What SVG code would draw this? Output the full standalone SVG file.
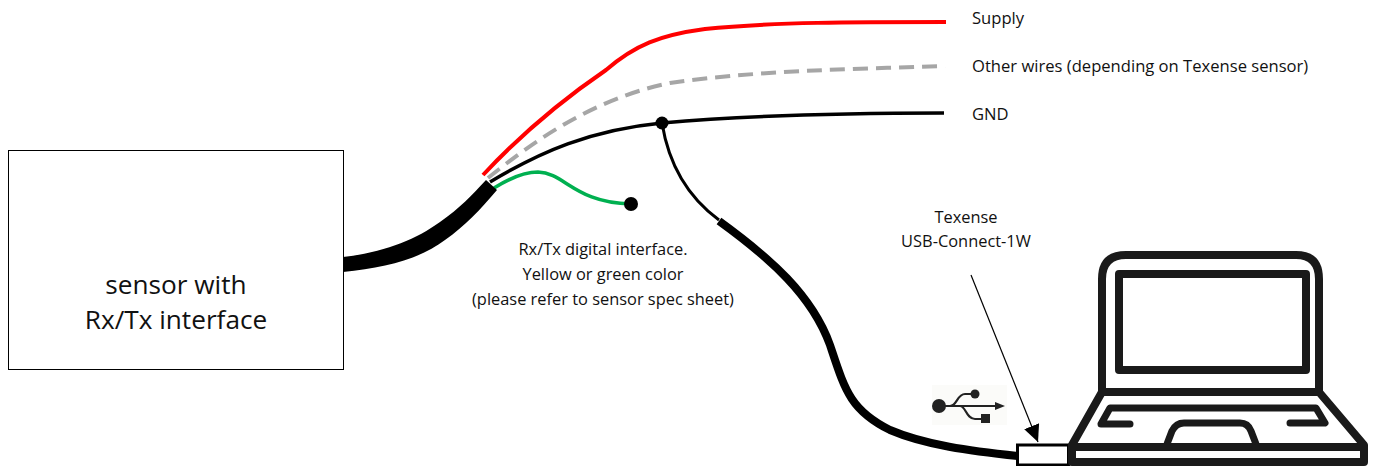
<svg xmlns="http://www.w3.org/2000/svg" width="1375" height="466" viewBox="0 0 1375 466">
<style>
text{font-family:"Open Sans","Noto Sans",sans-serif;fill:#111;text-anchor:middle}
.l{font-size:16.600px;text-anchor:start}
.s{font-size:16.400px}
.b{font-size:26.200px}
.w{fill:none;stroke-linecap:butt}
.k{fill:none;stroke:#1a1a1a}
</style>
<defs>
<marker id="ah" markerUnits="userSpaceOnUse" markerWidth="18" markerHeight="18" refX="17" refY="8" orient="auto"><path d="M0 0L17 8L0 16Z" fill="#000"/></marker>
</defs>
<rect width="1375" height="466" fill="#fff"/>
<g id="connectors">
<path class="w" stroke="#f00" stroke-width="4" d="M483 175C525 130 565 98 606 70C635 45 660 35 705 29C770 22 860 22 946 22"/>
<path class="w" stroke="#a6a6a6" stroke-width="4" stroke-dasharray="15 8" d="M488 178C535 140 595 98 670 83C750 71 850 69 945 66"/>
<path class="w" stroke="#000" stroke-width="3.500" d="M490 182C540 152 590 130 662 123C740 116 840 113 944 113"/>
<path class="w" stroke="#00b050" stroke-width="3.500" d="M494 188C510 178 525 172 538 172C565 173 575 203 631 204"/>
<path class="w" stroke="#000" stroke-width="3" d="M662 123C668 160 685 195 719 220"/>
<path class="w" stroke="#000" stroke-width="8" d="M719 221C770 258 812 295 830 345C845 390 850 410 890 430C925 445 970 451 1018 456"/>
<path fill="#000" d="M343 257C385 252 415 240 440 222C460 208 472 195 486 180L497 190C480 210 465 226 445 240C420 259 385 268 343 272Z"/>
<circle cx="662" cy="123" r="6.500" fill="#000"/>
<circle cx="631" cy="204" r="7" fill="#000"/>
<path fill="none" stroke="#000" stroke-width="1.200" marker-end="url(#ah)" d="M971 275L1038 442"/>
</g>
<g id="sensor">
<rect x="8.500" y="150.500" width="335" height="219" fill="#fff" stroke="#000" stroke-width="1"/>
<text class="b" x="176" y="294">sensor with</text>
<text class="b" x="176" y="329">Rx/Tx interface</text>
</g>
<g id="labels">
<text class="l" x="972" y="24">Supply</text>
<text class="l" x="972" y="72">Other wires (depending on Texense sensor)</text>
<text class="l" x="972" y="120">GND</text>
<text class="s" x="603" y="255">Rx/Tx digital interface.</text>
<text class="s" x="603" y="280">Yellow or green color</text>
<text class="s" x="603" y="305">(please refer to sensor spec sheet)</text>
<text class="s" x="966" y="223">Texense</text>
<text class="s" x="966" y="247">USB-Connect-1W</text>
</g>
<g id="usb-icon">
<rect x="932" y="385" width="75" height="40" fill="#fbfbf9"/>
<circle cx="939" cy="406" r="7" fill="#222"/>
<circle cx="975" cy="394" r="4.500" fill="#222"/>
<rect x="981" y="414" width="9" height="9" fill="#222"/>
<path fill="none" stroke="#222" stroke-width="2.200" d="M942 406H1000M950 406C957 406 957 394 965 394H972M960 406C966 406 966 419 975 419H982"/>
<path d="M995 402L1005 406L995 410Z" fill="#222"/>
</g>
<g id="usb-connector">
<rect x="1017.500" y="445" width="51" height="20" fill="#fff" stroke="#000" stroke-width="3"/>
</g>
<g id="laptop">
<path class="k" stroke-width="8" d="M1102 392V279Q1102 255 1126 255H1296Q1319 255 1319 279V392"/>
<rect x="1119" y="274" width="187" height="96" fill="none" stroke="#1a1a1a" stroke-width="8" stroke-linejoin="round"/>
<path class="k" stroke-width="8" stroke-linejoin="round" d="M1102 392H1319L1364 445V462H1072V445Z"/>
<path class="k" stroke-width="8" d="M1072 447H1364"/>
<path class="k" stroke-width="7" stroke-linecap="round" stroke-linejoin="round" d="M1130 424H1101L1110 408H1316L1325 423H1290"/>
<path class="k" stroke-width="7" d="M1167 444L1172 431Q1176 423 1184 423H1240Q1248 423 1251 431L1256 444"/>
</g>
</svg>
